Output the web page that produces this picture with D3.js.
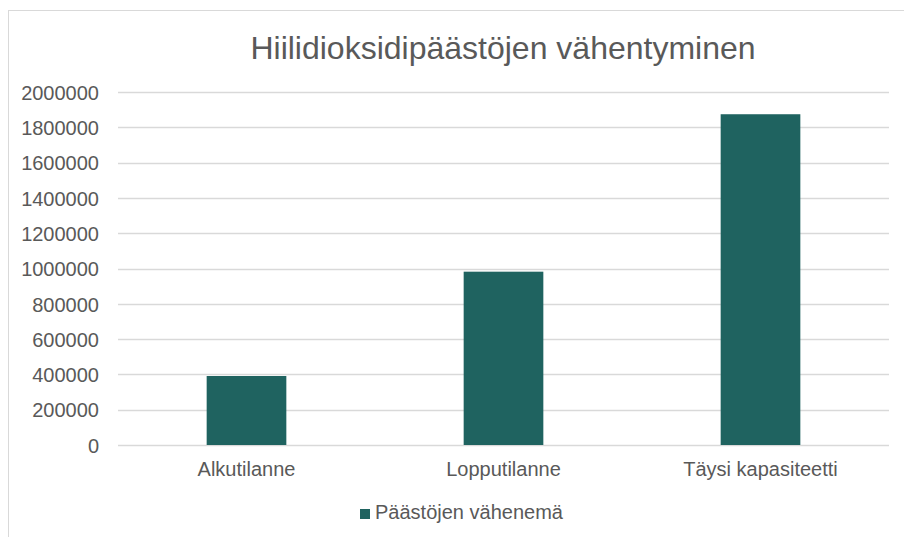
<!DOCTYPE html>
<html lang="fi">
<head>
<meta charset="utf-8" />
<title>Hiilidioksidipäästöjen vähentyminen</title>
<style>
  body { margin: 0; background: #fff; font-family: "Liberation Sans", Arial, sans-serif; }
  svg text { fill: #595959; }
</style>
</head>
<body>
<div id="chart"></div>
<script src="https://cdn.jsdelivr.net/npm/d3@7"></script>
<script>

 var categories = ["Alkutilanne", "Lopputilanne", "Täysi kapasiteetti"];
 var values = [391000, 982000, 1874000];
 var seriesName = "Päästöjen vähenemä";
 var yTicks = [0, 200000, 400000, 600000, 800000, 1000000, 1200000, 1400000, 1600000, 1800000, 2000000];

 var width = 904, height = 537;
 var margin = {top: 92, right: 15, bottom: 92, left: 118};

 var svg = d3.select("#chart").append("svg")
     .attr("width", width)
     .attr("height", height);

 // chart frame
 svg.append("rect")
    .attr("x", 8.5).attr("y", 10.5)
    .attr("width", 910).attr("height", 540)
    .attr("fill", "none")
    .attr("stroke", "#d9d9d9");

 var x = d3.scaleBand()
    .domain(categories)
    .range([margin.left, width - margin.right])
    .paddingInner(0.69)
    .paddingOuter(0.345);

 var y = d3.scaleLinear()
    .domain([0, 2000000])
    .range([height - margin.bottom, margin.top]);

 // gridlines
 svg.append("g")
    .selectAll("line")
    .data(yTicks)
    .join("line")
    .attr("x1", margin.left)
    .attr("x2", width - margin.right)
    .attr("y1", d => Math.round(y(d)) + 0.5)
    .attr("y2", d => Math.round(y(d)) + 0.5)
    .attr("stroke", "#d9d9d9")
    .attr("stroke-width", 1.3);

 // y axis labels
 var yAxis = svg.append("g")
    .attr("transform", "translate(" + (margin.left - 16) + ",0)")
    .call(d3.axisLeft(y).tickValues(yTicks).tickSize(0).tickFormat(d3.format("d")));
 yAxis.select(".domain").remove();
 yAxis.selectAll("text")
    .attr("font-family", "'Liberation Sans', Arial, sans-serif")
    .attr("font-size", 20)
    .attr("fill", "#595959")
    .attr("dy", "0.36em");

 // bars
 svg.append("g")
    .selectAll("rect")
    .data(values)
    .join("rect")
    .attr("x", (d, i) => x(categories[i]))
    .attr("width", x.bandwidth())
    .attr("y", d => y(d))
    .attr("height", d => y(0) - y(d))
    .attr("fill", "#1f6360");

 // x axis labels
 var xAxis = svg.append("g")
    .attr("transform", "translate(0," + (height - margin.bottom) + ")")
    .call(d3.axisBottom(x).tickSize(0).tickPadding(17));
 xAxis.select(".domain").remove();
 xAxis.selectAll("text")
    .attr("font-family", "'Liberation Sans', Arial, sans-serif")
    .attr("font-size", 20)
    .attr("fill", "#595959");

 // title
 svg.append("text")
    .attr("x", 503)
    .attr("y", 59)
    .attr("text-anchor", "middle")
    .attr("font-size", 32)
    .text("Hiilidioksidipäästöjen vähentyminen");

 // legend
 var legend = svg.append("g").attr("transform", "translate(360,519)");
 legend.append("rect")
    .attr("x", 0).attr("y", -10)
    .attr("width", 10).attr("height", 10)
    .attr("fill", "#1f6360");
 legend.append("text")
    .attr("x", 15)
    .attr("y", 0)
    .attr("font-size", 20)
    .text(seriesName);

</script>
</body>
</html>
